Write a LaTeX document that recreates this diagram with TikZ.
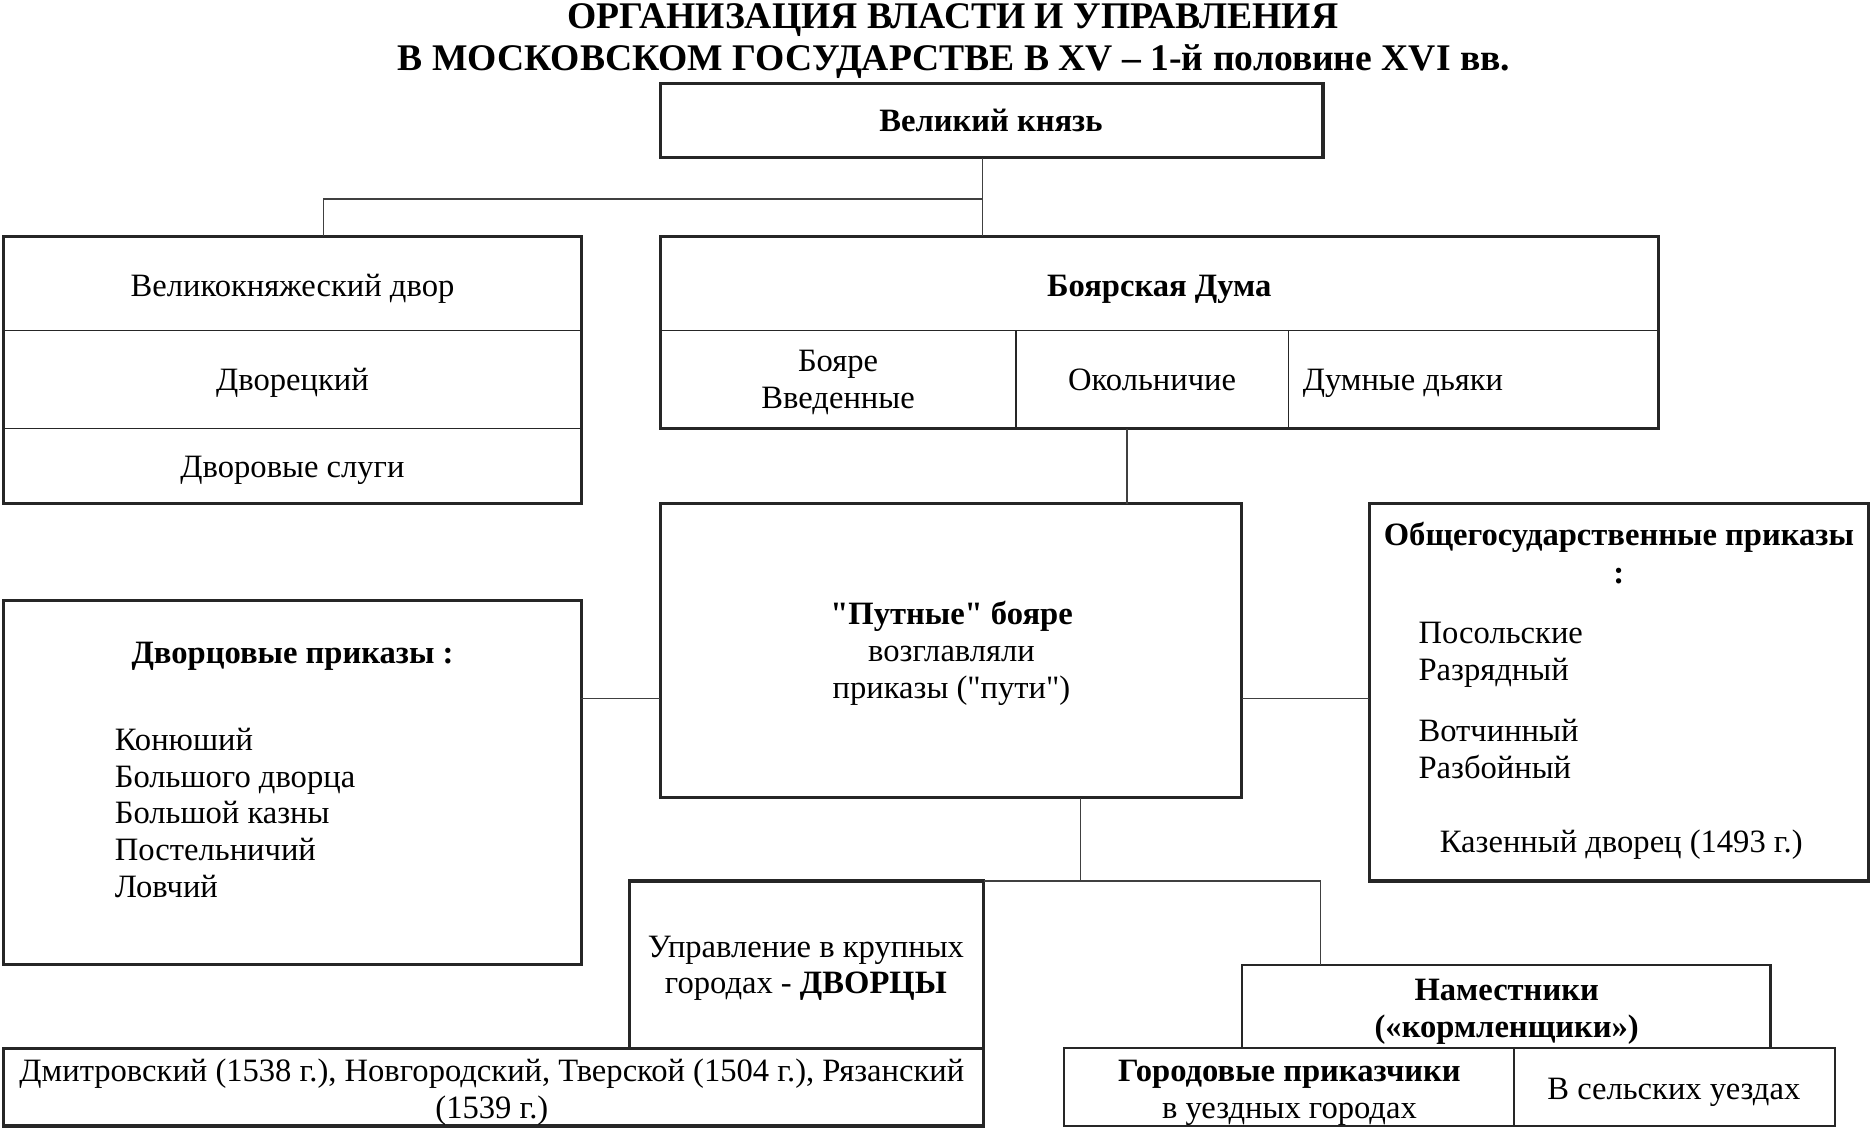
\documentclass[tikz,border=0pt]{standalone}
\usepackage{fontspec}
\setmainfont{Liberation Serif}[Ligatures=TeXOff]
\begin{document}
\begin{tikzpicture}[x=1pt,y=-1pt,
  cell/.style={draw=black!85,line width=1.1pt,inner sep=0pt,outer sep=0pt},
  frame/.style={draw=black!85,line width=2.8pt},
  bx/.style={draw=black!85,line width=2.8pt,inner sep=0pt,outer sep=0pt},
  conn/.style={draw=black!75,line width=1.5pt},
  txt/.style={inner sep=0pt,anchor=base,font=\fontsize{27.3}{31}\selectfont},
  txtb/.style={txt,font=\fontsize{27.3}{31}\selectfont\bfseries},
  txtl/.style={txt,anchor=base west},
  ttl/.style={inner sep=0pt,anchor=base,font=\fontsize{31.5}{35}\selectfont\bfseries}]
\useasboundingbox (0,0) rectangle (1568,947);
% title
\node[ttl] (t1) at (798,24) {ОРГАНИЗАЦИЯ ВЛАСТИ И УПРАВЛЕНИЯ};
\node[ttl] (t2) at (799,59) {В МОСКОВСКОМ ГОСУДАРСТВЕ В XV – 1-й половине XVI вв.};
% Великий князь
\node[bx,minimum width=555pt,minimum height=62pt] (vk) at (830.5,101) {};
\node[txtb] at (830,110) {Великий князь};
% Великокняжеский двор group
\node[cell,minimum width=484pt,minimum height=79pt] (dv1) at (245,237.5) {};
\node[cell,minimum width=484pt,minimum height=82pt] (dv2) at (245,318) {};
\node[cell,minimum width=484pt,minimum height=63pt] (dv3) at (245,390.5) {};
\draw[frame] (dv1.north west) rectangle (dv3.south east);
\node[txt] at (245,248) {Великокняжеский двор};
\node[txt] at (245,327) {Дворецкий};
\node[txt] at (245,400) {Дворовые слуги};
% Боярская Дума
\node[cell,minimum width=836pt,minimum height=79pt] (bd) at (971,237.5) {};
\node[cell,minimum width=298pt,minimum height=82pt] (bd1) at (702,318) {};
\node[cell,minimum width=228pt,minimum height=82pt] (bd2) at (965,318) {};
\node[cell,minimum width=310pt,minimum height=82pt] (bd3) at (1234,318) {};
\draw[frame] (bd.north west) rectangle (bd3.south east);
\node[txtb] at (971,248) {Боярская Дума};
\node[txt] at (702,311) {Бояре};
\node[txt] at (702,342) {Введенные};
\node[txt] at (965,327) {Окольничие};
\node[txtl] at (1091,327) {Думные дьяки};
% Путные бояре
\node[bx,minimum width=487pt,minimum height=246pt] (pb) at (796.5,545) {};
\node[txtb] at (797,523) {"Путные" бояре};
\node[txt] at (797,554) {возглавляли};
\node[txt] at (797,585) {приказы ("пути")};
% Дворцовые приказы
\node[bx,minimum width=484pt,minimum height=305pt] (dp) at (245,655.5) {};
\node[txtb] at (245,556) {Дворцовые приказы :};
\node[txtl] at (96,629) {Конюший};
\node[txtl] at (96,660) {Большого дворца};
\node[txtl] at (96,690) {Большой казны};
\node[txtl] at (96,721) {Постельничий};
\node[txtl] at (96,752) {Ловчий};
% Общегосударственные приказы
\node[bx,minimum width=418pt,minimum height=316pt] (op) at (1356,580) {};
\node[txtb] at (1356,457) {Общегосударственные приказы};
\node[txtb] at (1356,489) {:};
\node[txtl] at (1188,539) {Посольские};
\node[txtl] at (1188,570) {Разрядный};
\node[txtl] at (1188,621) {Вотчинный};
\node[txtl] at (1188,652) {Разбойный};
\node[txt] at (1358,714) {Казенный дворец (1493 г.)};
% Управление в крупных городах
\node[bx,minimum width=297pt,minimum height=140pt] (up) at (675.5,808) {};
\node[txt] at (675,802) {Управление в крупных};
\node[txt] at (675,832) {городах - \textbf{ДВОРЦЫ}};
% Дмитровский ...
\node[bx,minimum width=821pt,minimum height=65pt] (dm) at (413.5,910.5) {};
\node[txt] at (412,906) {Дмитровский (1538 г.), Новгородский, Тверской (1504 г.), Рязанский};
\node[txt] at (412,937) {(1539 г.)};
% Наместники
\node[cell,line width=1.8pt,minimum width=443pt,minimum height=70pt] (nm) at (1261.5,843) {};
\node[txtb] at (1262,838) {Наместники};
\node[txtb] at (1262,869) {(«кормленщики»)};
% Городовые приказчики / В сельских уездах
\node[cell,minimum width=377pt,minimum height=65pt] (gp) at (1079.5,910.5) {};
\node[cell,minimum width=269pt,minimum height=65pt] (su) at (1402.5,910.5) {};
\draw[frame,line width=2pt] (gp.north west) rectangle (su.south east);
\node[txtb] at (1080,906) {Городовые приказчики};
\node[txt] at (1080,937) {в уездных городах};
\node[txt] at (1402,921) {В сельских уездах};
% connectors
\coordinate (j1) at (823,167);
\coordinate (j2) at (271,167);
\coordinate (j3) at (944,390);
\coordinate (j4) at (0,585);
\coordinate (j5) at (905,738);
\coordinate (j6) at (1106,738);
\draw[conn] (vk.south -| j1) -- (j1) -- (j2) -- (j2 |- dv1.north);
\draw[conn] (j1) -- (j1 |- bd.north);
\draw[conn] (bd2.south -| j3) -- (j3 |- pb.north);
\draw[conn] (dp.east |- j4) -- (pb.west |- j4);
\draw[conn] (pb.east |- j4) -- (op.west |- j4);
\draw[conn] (pb.south -| j5) -- (j5);
\draw[conn] (up.north east) -- (j6) -- (j6 |- nm.north);
\end{tikzpicture}
\end{document}
